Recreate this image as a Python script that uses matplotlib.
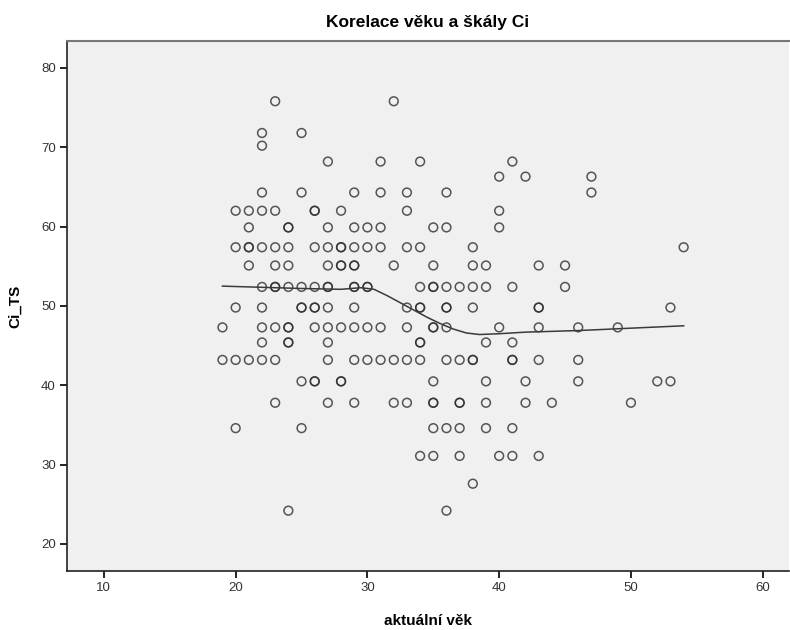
import numpy as np
import matplotlib.pyplot as plt

plt.rcParams['font.family'] = ['Liberation Sans', 'DejaVu Sans']

# Ci_TS levels and the ages observed at each level (repeats = overlapping cases)
levels = {
    75.8: [23, 32],
    71.8: [22, 25],
    70.2: [22],
    68.2: [27, 31, 34, 41],
    66.3: [40, 42, 47],
    64.3: [22, 25, 29, 31, 33, 36, 47],
    62.0: [20, 21, 22, 23, 26, 26, 28, 33, 40],
    59.9: [21, 24, 24, 27, 29, 30, 31, 35, 36, 40],
    57.4: [20, 21, 21, 22, 23, 24, 26, 27, 28, 28, 29, 30, 31, 33, 34, 38, 54],
    55.1: [21, 23, 24, 27, 28, 28, 29, 29, 32, 35, 38, 39, 43, 45],
    52.4: [22, 23, 23, 24, 25, 26, 27, 27, 29, 29, 30, 30, 34, 35, 35, 36, 37,
           38, 39, 41, 45],
    49.8: [20, 22, 25, 25, 26, 26, 27, 29, 33, 34, 34, 36, 36, 38, 43, 43, 53],
    47.3: [19, 22, 23, 24, 24, 26, 27, 28, 29, 30, 31, 33, 35, 35, 36, 40, 43,
           46, 49],
    45.4: [22, 24, 24, 27, 34, 34, 39, 41],
    43.2: [19, 20, 21, 22, 23, 27, 29, 30, 31, 32, 33, 34, 36, 37, 38, 38, 41,
           41, 43, 46],
    40.5: [25, 26, 26, 28, 28, 35, 39, 42, 46, 52, 53],
    37.8: [23, 27, 29, 32, 33, 35, 35, 37, 37, 39, 42, 44, 50],
    34.6: [20, 25, 35, 36, 37, 39, 41],
    31.1: [34, 35, 37, 40, 41, 43],
    27.6: [38],
    24.2: [24, 36],
}

age = []
ci_ts = []
for val, ages in levels.items():
    for a in ages:
        age.append(a)
        ci_ts.append(val)

# loess fit line
fit_x = [19, 25, 28, 29.5, 30.5, 31.5, 32.5, 33.5, 34.5, 35.5, 36.5, 37.5,
         38.5, 40, 42, 46, 50, 54]
fit_y = [52.5, 52.2, 52.1, 52.3, 52.1, 51.3, 50.4, 49.5, 48.6, 47.8, 47.1,
         46.6, 46.4, 46.5, 46.7, 46.9, 47.2, 47.5]

fig = plt.figure(figsize=(7.9, 6.3), dpi=100)
ax = fig.add_axes([0.0848, 0.0937, 0.9140, 0.8413])
ax.set_facecolor('#f0f0f0')

ax.scatter(age, ci_ts, s=40, facecolors='none', edgecolors='#2e2e2e',
           linewidths=1.1, alpha=0.8, zorder=3)
ax.plot(fit_x, fit_y, color='#3a3a3a', linewidth=1.1, zorder=4)

ax.set_xlim(7.2, 62.0)
ax.set_ylim(16.6, 83.4)
ax.set_xticks([10, 20, 30, 40, 50, 60])
ax.set_yticks([20, 30, 40, 50, 60, 70, 80])
ax.tick_params(direction='out', length=5, width=1.2, labelsize=9.5,
               labelcolor='#333333', pad=3)

for side in ['left', 'bottom']:
    ax.spines[side].set_color('#222222')
    ax.spines[side].set_linewidth(1.2)
ax.spines['top'].set_color('#777777')
ax.spines['top'].set_linewidth(1.5)
ax.spines['right'].set_visible(False)

ax.set_title('Korelace věku a škály Ci', fontsize=12.5, fontweight='bold',
             pad=10)
ax.set_xlabel('aktuální věk', fontsize=11, fontweight='bold', labelpad=14)
ax.set_ylabel('Ci_TS', fontsize=11, fontweight='bold', labelpad=14)

fig.savefig('out.png', dpi=100)
